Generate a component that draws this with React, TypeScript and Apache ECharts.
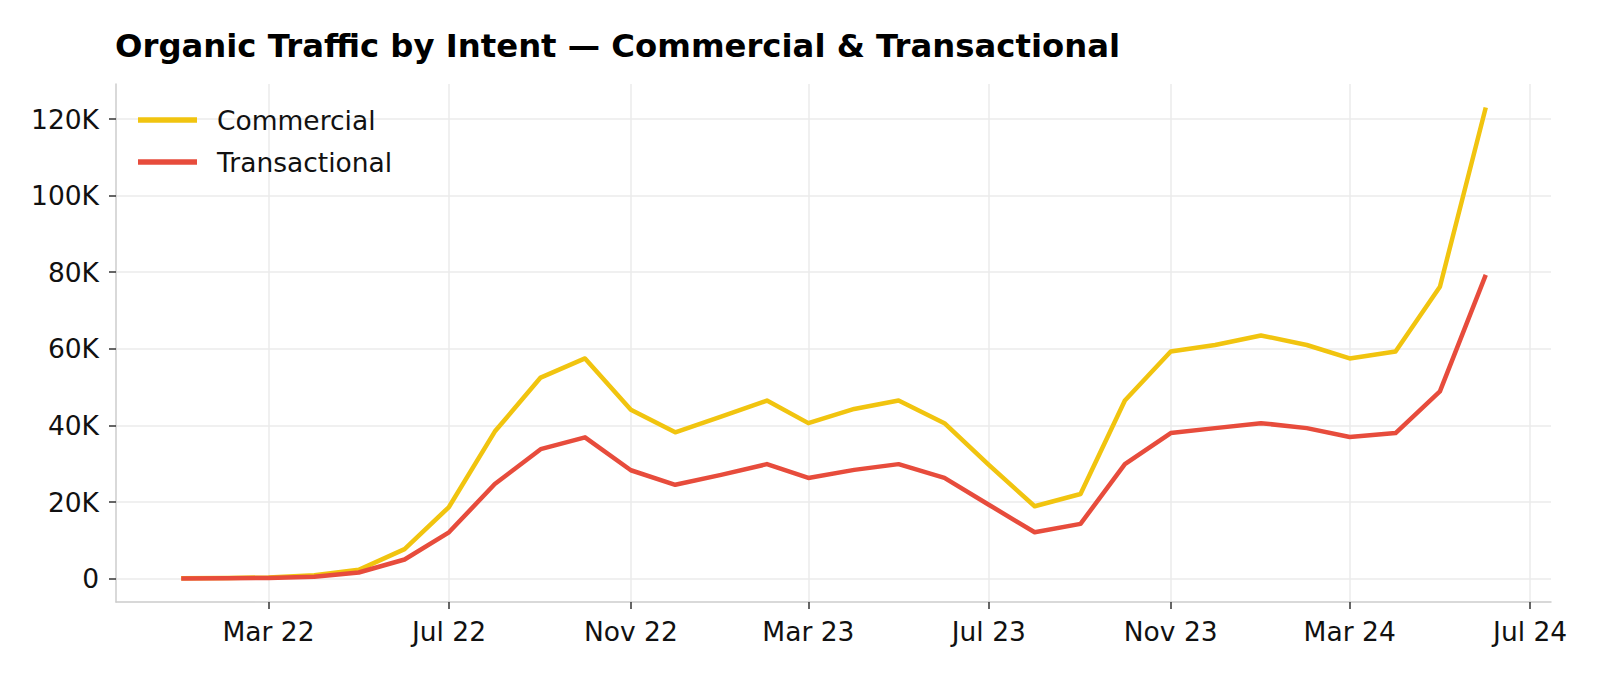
import React, { useEffect, useRef } from "react";
import * as echarts from "echarts";

const months: string[] = [
  "2022-01", "2022-02", "2022-03", "2022-04", "2022-05", "2022-06",
  "2022-07", "2022-08", "2022-09", "2022-10", "2022-11", "2022-12",
  "2023-01", "2023-02", "2023-03", "2023-04", "2023-05", "2023-06",
  "2023-07", "2023-08", "2023-09", "2023-10", "2023-11", "2023-12",
  "2024-01", "2024-02", "2024-03", "2024-04", "2024-05", "2024-06",
];

const commercial: number[] = [
  100, 200, 300, 900, 2300, 7700, 18700, 38400, 52500, 57500, 44100, 38200,
  42300, 46500, 40600, 44300, 46500, 40600, 29700, 18900, 22100, 46500, 59300, 61000,
  63500, 61000, 57500, 59300, 76200, 123000,
];

const transactional: number[] = [
  50, 100, 200, 500, 1600, 5000, 12100, 24700, 33800, 36900, 28300, 24500,
  27100, 29900, 26300, 28400, 29900, 26300, 19300, 12100, 14300, 29900, 38000, 39300,
  40600, 39300, 37000, 38000, 48900, 79300,
];

const xTickDates: string[] = ["2022-03", "2022-07", "2022-11", "2023-03", "2023-07", "2023-11", "2024-03", "2024-07"];
const yTickValues: number[] = [0, 20000, 40000, 60000, 80000, 100000, 120000];

const MONTH_NAMES = ["Jan", "Feb", "Mar", "Apr", "May", "Jun", "Jul", "Aug", "Sep", "Oct", "Nov", "Dec"];

function ts(m: string): number {
  const [y, mo] = m.split("-").map(Number);
  return Date.UTC(y, mo - 1, 1);
}

export default function App() {
  const ref = useRef<HTMLDivElement>(null);
  useEffect(() => {
    if (!ref.current) return;
    const chart = echarts.init(ref.current, null, { renderer: "svg" });
    const xs = months.map(ts);
    const span = xs[xs.length - 1] - xs[0];
    const xMin = xs[0] - span * 0.05;
    const xMax = xs[xs.length - 1] + span * 0.05;
    const all = commercial.concat(transactional);
    const dMax = Math.max(...all);
    const dMin = Math.min(...all);
    const yr = dMax - dMin;
    const yMin = dMin - yr * 0.05;
    const yMax = dMax + yr * 0.05;
    const font = "DejaVu Sans";
    const gridColor = "#ebebeb";
    const xTicks = xTickDates.map(ts);
    chart.setOption({
      animation: false,
      backgroundColor: "#ffffff",
      title: {
        text: "Organic Traffic by Intent — Commercial & Transactional",
        left: 110,
        top: 25,
        textStyle: { fontFamily: font, fontSize: 32.3, fontWeight: "bold", color: "#000" },
      },
      legend: {
        orient: "vertical",
        left: 133,
        top: 101.5,
        itemWidth: 59,
        itemHeight: 5.5,
        itemGap: 15,
        icon: "rect",
        textStyle: { fontFamily: font, fontSize: 26.5, color: "#111", padding: [0, 0, 0, 15] },
        data: ["Commercial", "Transactional"],
      },
      grid: { left: 116, right: 49, top: 84, bottom: 74, outerBoundsMode: "none" },
      xAxis: {
        type: "value",
        min: xMin,
        max: xMax,
        axisLine: { show: true, onZero: false, lineStyle: { color: "#cccccc", width: 1.5 } },
        axisTick: {
          show: true,
          length: 7,
          lineStyle: { color: "#333", width: 1.5 },
          customValues: xTicks,
        },
        axisLabel: {
          fontFamily: font,
          fontSize: 26.5,
          color: "#111",
          margin: 16,
          customValues: xTicks,
          formatter: (v: number) => {
            const d = new Date(v);
            return MONTH_NAMES[d.getUTCMonth()] + " " + String(d.getUTCFullYear()).slice(2);
          },
        },
        splitLine: { show: true, lineStyle: { color: gridColor, width: 1.5 } },
      },
      yAxis: {
        type: "value",
        min: yMin,
        max: yMax,
        axisLine: { show: true, lineStyle: { color: "#cccccc", width: 1.5 } },
        axisTick: { show: true, length: 7, lineStyle: { color: "#333", width: 1.5 }, customValues: yTickValues },
        axisLabel: {
          fontFamily: font,
          fontSize: 26.5,
          color: "#111",
          margin: 17,
          customValues: yTickValues,
          formatter: (v: number) => (v === 0 ? "0" : Math.round(v / 1000) + "K"),
        },
        splitLine: { show: true, lineStyle: { color: gridColor, width: 1.5 } },
      },
      series: [
        {
          name: "Commercial",
          type: "line",
          symbol: "none",
          showSymbol: false,
          color: "#F1C40F",
          lineStyle: { width: 4.5, color: "#F1C40F", join: "round" },
          data: xs.map((x, i) => [x, commercial[i]]),
          z: 3,
        },
        {
          name: "Transactional",
          type: "line",
          symbol: "none",
          showSymbol: false,
          color: "#E74C3C",
          lineStyle: { width: 4.5, color: "#E74C3C", join: "round" },
          data: xs.map((x, i) => [x, transactional[i]]),
          z: 4,
        },
      ],
    });
    return () => chart.dispose();
  }, []);
  return (
    <div
      ref={ref}
      style={{ position: "fixed", left: 0, top: 0, width: 1600, height: 676, background: "#fff" }}
    />
  );
}
